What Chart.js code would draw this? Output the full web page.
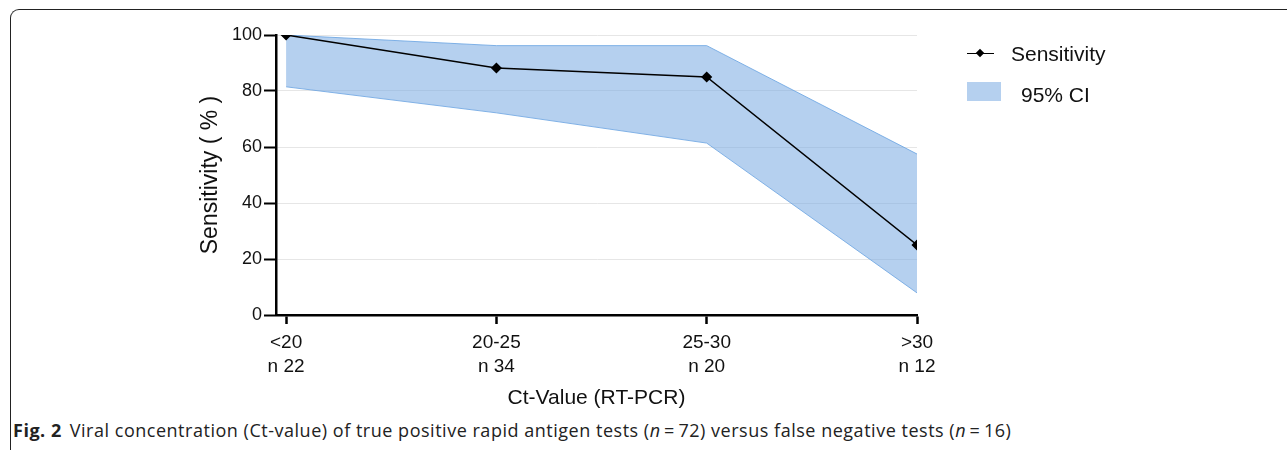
<!DOCTYPE html>
<html>
<head>
<meta charset="utf-8">
<script src="https://cdn.jsdelivr.net/npm/chart.js@4/dist/chart.umd.min.js"></script>
<style>
  html, body { margin: 0; padding: 0; background: #fff; }
  body { width: 1287px; height: 450px; position: relative; overflow: hidden; font-family: "Liberation Sans", Arial, sans-serif; }
  .frame { position: absolute; left: 10px; top: 9px; right: -10px; bottom: -10px; border-top: 1.5px solid #222; border-left: 1.5px solid #222; border-top-left-radius: 9px; }
  #wrap { position: absolute; left: 0; top: 0; width: 1287px; height: 415px; }
  .legend { position: absolute; font-size: 21px; color: #111; }
  .leg-line { position: absolute; left: 967px; top: 53px; width: 27px; height: 0; border-top: 1.5px solid #000; }
  .leg-dot { position: absolute; left: 977px; top: 50px; width: 6px; height: 6px; background: #000; transform: rotate(45deg); }
  .leg-box { position: absolute; left: 967px; top: 82px; width: 34px; height: 19px; background: rgba(120,170,225,0.55); }
  .caption { position: absolute; left: 13px; top: 418px; font-family: "Open Sans", sans-serif; font-size: 18px; letter-spacing: 0.52px; color: #222; white-space: nowrap; }
  .caption b { font-weight: 700; margin-right: 8px; }
</style>
</head>
<body>
<div class="frame"></div>
<div id="wrap"><canvas id="chart" width="1287" height="415"></canvas></div>
<div class="leg-line"></div><div class="leg-dot"></div>
<div class="legend" style="left:1011px; top:42px;">Sensitivity</div>
<div class="leg-box"></div>
<div class="legend" style="left:1021px; top:83px;">95% CI</div>
<div class="caption"><b>Fig. 2</b>Viral concentration (Ct-value) of true positive rapid antigen tests (<i>n</i>&thinsp;=&thinsp;72) versus false negative tests (<i>n</i>&thinsp;=&thinsp;16)</div>

<script>
// data
const ctGroups = ['<20', '20-25', '25-30', '>30'];
const groupN = ['n 22', 'n 34', 'n 20', 'n 12'];
const sensitivity = [100, 88.2, 85, 25];
const ciUpper = [100, 96.2, 96.2, 57.5];
const ciLower = [81.5, 72.2, 61.4, 7.9];

const toPoints = arr => arr.map((v, i) => ({ x: i, y: v }));

const ctx = document.getElementById('chart').getContext('2d');
new Chart(ctx, {
  type: 'line',
  data: {
    datasets: [
      {
        label: 'Sensitivity',
        data: toPoints(sensitivity),
        borderColor: '#000',
        backgroundColor: '#000',
        borderWidth: 1.5,
        pointStyle: 'rectRot',
        pointRadius: 4.5,
        fill: false,
        order: 0
      },
      {
        label: '95% CI upper',
        data: toPoints(ciUpper),
        borderColor: 'rgba(100,160,225,0.8)',
        borderWidth: 1,
        pointRadius: 0,
        backgroundColor: 'rgba(120,170,225,0.55)',
        fill: '+1',
        order: 1
      },
      {
        label: '95% CI lower',
        data: toPoints(ciLower),
        borderColor: 'rgba(100,160,225,0.8)',
        borderWidth: 1,
        pointRadius: 0,
        fill: false,
        order: 1
      }
    ]
  },
  options: {
    responsive: false,
    animation: false,
    layout: { padding: { left: 193, right: 370, top: 35, bottom: 0 } },
    plugins: { legend: { display: false }, tooltip: { enabled: false } },
    scales: {
      x: {
        type: 'linear',
        min: -0.048,
        max: 3,
        afterFit: s => { s.height = 100; },
        afterBuildTicks: s => { s.ticks = ctGroups.map((_, i) => ({ value: i })); },
        ticks: {
          color: '#111',
          font: { family: 'Liberation Sans', size: 19, lineHeight: 1.27 },
          padding: 7,
          maxRotation: 0,
          callback: v => [ctGroups[v], groupN[v]]
        },
        grid: { drawOnChartArea: false, tickLength: 9, tickWidth: 2.5, tickColor: '#000' },
        border: { color: '#000', width: 2.5 },
        title: { display: true, text: 'Ct-Value (RT-PCR)', color: '#111', font: { family: 'Liberation Sans', size: 21 }, padding: { top: 4, bottom: 4 } }
      },
      y: {
        min: 0,
        max: 100,
        afterFit: s => { s.width = 83; },
        ticks: {
          stepSize: 20,
          color: '#111',
          font: { family: 'Liberation Sans', size: 18 },
          padding: 2
        },
        grid: { color: '#e6e6e6', lineWidth: 1, tickLength: 12, tickWidth: 2, tickColor: '#000' },
        border: { color: '#000', width: 2.5 },
        title: { display: true, text: 'Sensitivity ( % )', color: '#111', font: { family: 'Liberation Sans', size: 23 }, padding: { top: 4, bottom: 4 } }
      }
    }
  }
});
</script>
</body>
</html>
